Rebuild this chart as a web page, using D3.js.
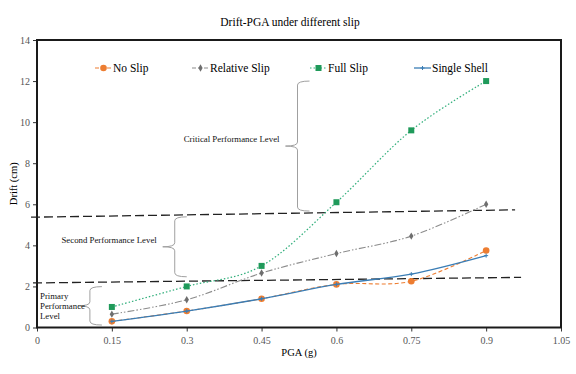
<!DOCTYPE html>
<html>
<head>
<meta charset="utf-8">
<script src="https://cdn.jsdelivr.net/npm/d3@7"></script>
<style>
  body { margin: 0; background: #fff; }
  svg, svg text { font-family: "Liberation Serif", "DejaVu Serif", "Times New Roman", serif; }
</style>
</head>
<body>
<div class="chart"></div>
<script>
// DATA ------------------------------------**
const pga = [0.15, 0.3, 0.45, 0.6, 0.75, 0.9];
const noSlip = [0.3, 0.8, 1.4, 2.1, 2.25, 3.75];
const relativeSlip = [0.65, 1.35, 2.65, 3.6, 4.45, 6.0];
const fullSlip = [1.0, 2.0, 3.0, 6.1, 9.6, 12.0];
const singleShell = [0.3, 0.8, 1.4, 2.1, 2.6, 3.5];
const xTicks = [0, 0.15, 0.3, 0.45, 0.6, 0.75, 0.9, 1.05];
const yTicks = [0, 2, 4, 6, 8, 10, 12, 14];

// performance level boundary lines [x0, y0, x1, y1]
const upperLine = [-0.012, 5.37, 0.958, 5.73];
const lowerLine = [-0.008, 2.17, 0.97, 2.44];

// braces: x, top, bottom, label lines
const braces = [
  {x: 0.522, top: 12.0, bottom: 5.67, label: ['Critical Performance Level']},
  {x: 0.276, top: 5.39, bottom: 2.47, label: ['Second Performance Level']},
  {x: 0.106, top: 1.99, bottom: 0.12, label: ['Primary', 'Performance', 'Level']}
];

const FONT = '"Liberation Serif", "DejaVu Serif", "Times New Roman", serif';

// CHART INIT ------------------------------**
const W = 576, H = 374;
const margin = {top: 40, right: 15, bottom: 46.5, left: 37};
const width = W - margin.left - margin.right;
const height = H - margin.top - margin.bottom;

const root = d3.select('.chart').append('svg')
    .attr('width', W)
    .attr('height', H)
    .style('font-family', FONT);

const svg = root.append('g')
    .attr('transform', 'translate(' + margin.left + ',' + margin.top + ')');

let xScale = d3.scaleLinear().domain([0, 1.05]).range([0, width]);
let yScale = d3.scaleLinear().domain([0, 14]).range([height, 0]);

// title
root.append('text')
    .attr('x', 290).attr('y', 26)
    .attr('text-anchor', 'middle')
    .style('font-family', FONT)
    .style('font-size', '11.5px')
    .text('Drift-PGA under different slip');

// axes
let xAxis = d3.axisBottom(xScale).tickValues(xTicks).tickFormat(d3.format('')).tickSize(4);
let yAxis = d3.axisLeft(yScale).tickValues(yTicks).tickSize(4);

let xAxisGroup = svg.append('g')
    .attr('class', 'axis x-axis')
    .attr('transform', 'translate(0,' + height + ')')
    .call(xAxis);
let yAxisGroup = svg.append('g')
    .attr('class', 'axis y-axis')
    .call(yAxis);

svg.selectAll('.axis').attr('font-family', null);
svg.selectAll('.axis .domain').remove();
svg.selectAll('.axis line').attr('stroke', '#333').attr('stroke-width', 1);
svg.selectAll('.axis text')
    .attr('fill', '#555')
    .style('font-size', '10px')
    .style('font-family', FONT);
xAxisGroup.selectAll('text').attr('dy', '0.9em');

// frame
svg.append('rect')
    .attr('x', 0).attr('y', 0)
    .attr('width', width).attr('height', height)
    .attr('fill', 'none')
    .attr('stroke', '#1a1a1a')
    .attr('stroke-width', 2);

// axis titles
root.append('text')
    .attr('x', margin.left + xScale(0.525)).attr('y', 356)
    .attr('text-anchor', 'middle')
    .style('font-family', FONT)
    .style('font-size', '10.5px')
    .text('PGA (g)');
root.append('text')
    .attr('transform', 'translate(17,' + (margin.top + height / 2) + ') rotate(-90)')
    .attr('text-anchor', 'middle')
    .style('font-family', FONT)
    .style('font-size', '10.5px')
    .text('Drift (cm)');

// performance boundary lines
[upperLine, lowerLine].forEach(l => {
  svg.append('line')
      .attr('x1', xScale(l[0])).attr('y1', yScale(l[1]))
      .attr('x2', xScale(l[2])).attr('y2', yScale(l[3]))
      .attr('stroke', '#222')
      .attr('stroke-width', 1.3)
      .attr('stroke-dasharray', '9,4');
});

// braces
function bracePath(x, y1, y2) {
  const ym = (y1 + y2) / 2, w = 12, n = 12, r = 4;
  return 'M' + (x + w) + ',' + y1 +
    'Q' + x + ',' + y1 + ' ' + x + ',' + (y1 + r) +
    'L' + x + ',' + (ym - r) +
    'Q' + x + ',' + ym + ' ' + (x - n) + ',' + ym +
    'Q' + x + ',' + ym + ' ' + x + ',' + (ym + r) +
    'L' + x + ',' + (y2 - r) +
    'Q' + x + ',' + y2 + ' ' + (x + w) + ',' + y2;
}
braces.forEach(b => {
  const bx = xScale(b.x), y1 = yScale(b.top), y2 = yScale(b.bottom);
  svg.append('path')
      .attr('d', bracePath(bx, y1, y2))
      .attr('fill', 'none')
      .attr('stroke', '#a0a0a0')
      .attr('stroke-width', 1);
  const ym = (y1 + y2) / 2;
  const lh = 10;
  const t = svg.append('text')
      .style('font-family', FONT)
      .style('font-size', '8.8px')
      .attr('fill', '#111');
  if (b.label.length === 1) {
    t.attr('x', bx - 18).attr('y', ym - 4)
      .attr('text-anchor', 'end')
      .text(b.label[0]);
  } else {
    b.label.forEach((s, i) => {
      t.append('tspan')
        .attr('x', 3)
        .attr('y', ym - 7 + i * lh)
        .text(s);
    });
  }
});

// series
const series = [
  {name: 'No Slip', values: noSlip, color: '#ED7D31', dash: '4,2.5', width: 1.1, marker: 'circle', mcolor: '#ED7D31'},
  {name: 'Relative Slip', values: relativeSlip, color: '#8c8c8c', dash: '7,2,1.5,2,1.5,2', width: 1.1, marker: 'diamond', mcolor: '#6e6e6e'},
  {name: 'Full Slip', values: fullSlip, color: '#2fae7a', dash: '1.5,2', width: 1.2, marker: 'square', mcolor: '#1f9a5a'},
  {name: 'Single Shell', values: singleShell, color: '#3a7db5', dash: null, width: 1.3, marker: 'plus', mcolor: '#3a7db5'}
];

const line = d3.line()
    .x((d, i) => xScale(pga[i]))
    .y(d => yScale(d))
    .curve(d3.curveCatmullRom.alpha(0));

function drawMarker(g, type, x, y, color) {
  if (type === 'circle') {
    g.append('circle').attr('cx', x).attr('cy', y).attr('r', 3.3).attr('fill', color);
  } else if (type === 'square') {
    g.append('rect').attr('x', x - 3).attr('y', y - 3).attr('width', 6).attr('height', 6).attr('fill', color);
  } else if (type === 'diamond') {
    g.append('path').attr('d', d3.symbol(d3.symbolDiamond, 16)()).attr('transform', 'translate(' + x + ',' + y + ')').attr('fill', color);
  } else {
    g.append('path').attr('d', 'M' + (x - 2) + ',' + y + 'H' + (x + 2) + 'M' + x + ',' + (y - 2) + 'V' + (y + 2))
      .attr('stroke', color).attr('stroke-width', 1);
  }
}

series.forEach(s => {
  svg.append('path')
      .datum(s.values)
      .attr('d', line)
      .attr('fill', 'none')
      .attr('stroke', s.color)
      .attr('stroke-width', s.width)
      .attr('stroke-dasharray', s.dash);
  const g = svg.append('g');
  s.values.forEach((v, i) => drawMarker(g, s.marker, xScale(pga[i]), yScale(v), s.mcolor));
});

// legend
const legendX = [95, 192, 310, 414];
const legendY = 68;
series.forEach((s, i) => {
  const lx = legendX[i];
  const g = root.append('g');
  g.append('line')
      .attr('x1', lx).attr('y1', legendY).attr('x2', lx + 17).attr('y2', legendY)
      .attr('stroke', s.color).attr('stroke-width', s.width)
      .attr('stroke-dasharray', s.dash ? (s.marker === 'square' ? '1.5,2' : '4,2') : null);
  drawMarker(g, s.marker, lx + 8.5, legendY, s.mcolor);
  g.append('text')
      .attr('x', lx + 18).attr('y', legendY + 4)
      .style('font-family', FONT)
      .style('font-size', '11.5px')
      .text(s.name);
});
</script>
</body>
</html>
